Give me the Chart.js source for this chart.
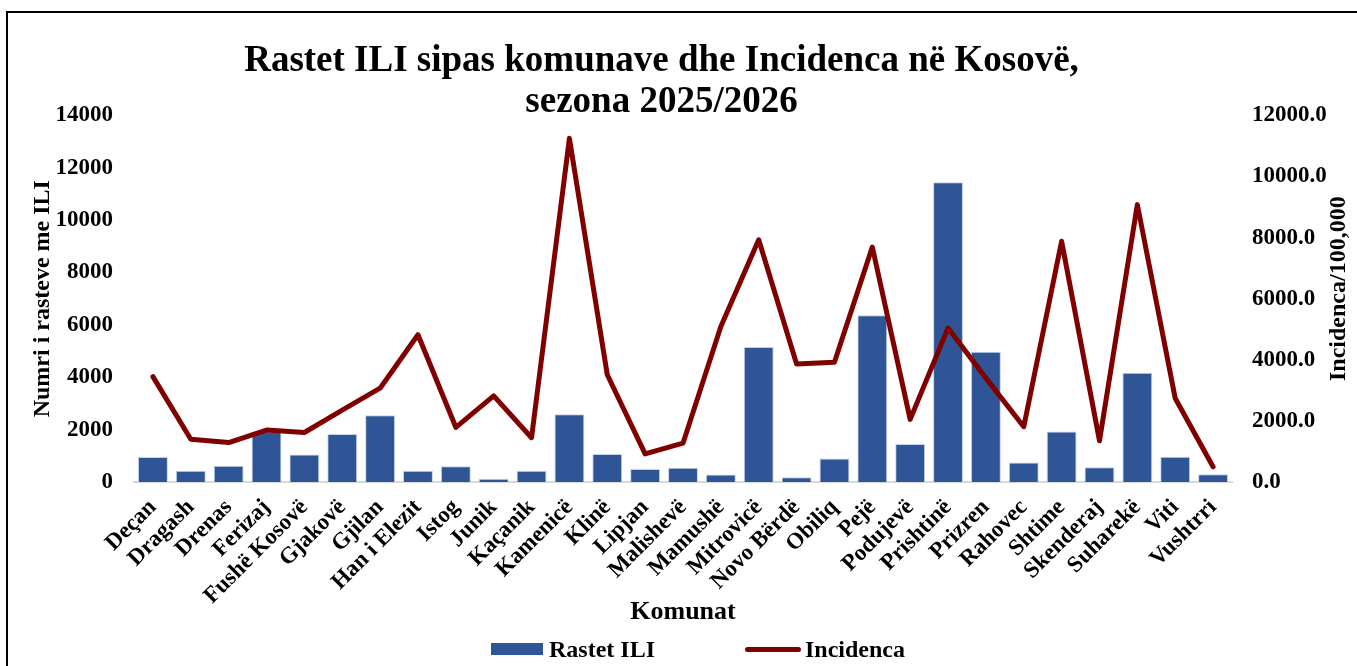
<!DOCTYPE html>
<html lang="sq">
<head>
<meta charset="utf-8">
<title>Rastet ILI sipas komunave</title>
<script src="https://cdn.jsdelivr.net/npm/chart.js@4.4.1/dist/chart.umd.min.js"></script>
<style>
  html, body { margin: 0; padding: 0; background: #fff; }
  .frame { position: relative; width: 1357px; height: 666px; overflow: hidden; }
  .frame .edge { position: absolute; left: 6px; top: 11px; width: 1400px; height: 700px; border: 2px solid #000; box-sizing: border-box; }
  .frame canvas { position: absolute; left: 0; top: 0; }
  .legend { position: absolute; top: 636px; left: 0; height: 26px; font: bold 24px "Liberation Serif", "Times New Roman", serif; color: #000; }
  .legend .item { position: absolute; top: 0; display: flex; align-items: center; height: 26px; white-space: nowrap; }
  .legend .swatch { display: inline-block; margin-right: 6px; }
</style>
</head>
<body>
<div class="frame">
  <div class="edge"></div>
  <canvas id="iliChart" width="1357" height="666"></canvas>
  <div class="legend" id="iliLegend"></div>
</div>
<script>
  // Komunat (categories)
  const municipalities = [
    'Deçan', 'Dragash', 'Drenas', 'Ferizaj', 'Fushë Kosovë', 'Gjakovë', 'Gjilan',
    'Han i Elezit', 'Istog', 'Junik', 'Kaçanik', 'Kamenicë', 'Klinë', 'Lipjan',
    'Malishevë', 'Mamushë', 'Mitrovicë', 'Novo Bërdë', 'Obiliq', 'Pejë', 'Podujevë',
    'Prishtinë', 'Prizren', 'Rahovec', 'Shtime', 'Skenderaj', 'Suharekë', 'Viti', 'Vushtrri'
  ];

  // Rastet ILI (left axis)
  const iliCases = [
    950, 430, 620, 1930, 1050, 1830, 2550,
    430, 600, 120, 430, 2590, 1070, 500,
    540, 290, 5160, 180, 900, 6370, 1450,
    11450, 4970, 740, 1930, 560, 4170, 960, 300
  ];

  // Incidenca / 100,000 (right axis)
  const incidence = [
    3450, 1400, 1290, 1700, 1620, 2350, 3070,
    4820, 1790, 2820, 1450, 11250, 3510, 920,
    1270, 5090, 7930, 3860, 3920, 7690, 2050,
    5040, 3400, 1810, 7880, 1350, 9080, 2740, 500
  ];

  // axis ranges / tick steps
  const casesAxis = { min: 0, max: 14000, step: 2000 };
  const incidenceAxis = { min: 0, max: 12000, step: 2000 };

  const BLUE = '#2f5597';
  const DARK_RED = '#800000';
  const SERIF = '"Liberation Serif", "Times New Roman", serif';

  // right axis title reads bottom-to-top in the original, so draw it ourselves
  const rightTitle = {
    id: 'rightTitle',
    afterDraw(chart) {
      const s = chart.scales.y1;
      const ctx = chart.ctx;
      ctx.save();
      ctx.translate(1339, (s.top + s.bottom) / 2 - 10);
      ctx.rotate(-Math.PI / 2);
      ctx.font = 'bold 24px ' + SERIF;
      ctx.fillStyle = '#000';
      ctx.textAlign = 'center';
      ctx.textBaseline = 'middle';
      ctx.fillText('Incidenca/100,000', 0, 0);
      ctx.restore();
    }
  };

  const chart = new Chart(document.getElementById('iliChart'), {
    data: {
      labels: municipalities,
      datasets: [
        {
          type: 'line',
          label: 'Incidenca',
          data: incidence,
          yAxisID: 'y1',
          borderColor: DARK_RED,
          backgroundColor: DARK_RED,
          borderWidth: 5,
          borderCapStyle: 'round',
          borderJoinStyle: 'round',
          pointRadius: 0,
          tension: 0,
          order: 0
        },
        {
          type: 'bar',
          label: 'Rastet ILI',
          data: iliCases,
          yAxisID: 'y',
          backgroundColor: BLUE,
          borderColor: 'rgba(190,205,235,0.9)',
          borderWidth: 1,
          barPercentage: 0.79,
          categoryPercentage: 1,
          order: 1
        }
      ]
    },
    options: {
      responsive: false,
      animation: false,
      // negative left padding moves the full-width title a bit left, like the original
      layout: { padding: { left: -34, right: 0, top: 0, bottom: 0 } },
      plugins: {
        legend: { display: false },
        tooltip: { enabled: false },
        title: {
          display: true,
          text: ['Rastet ILI sipas komunave dhe Incidenca në Kosovë,', 'sezona 2025/2026'],
          color: '#000',
          font: { family: SERIF, size: 37, weight: 'bold', lineHeight: 1.1 },
          padding: { top: 41, bottom: -7 }
        }
      },
      scales: {
        x: {
          grid: { display: false, drawTicks: false },
          border: { display: true, color: '#d9d9d9', width: 2 },
          ticks: {
            color: '#000',
            autoSkip: false,
            minRotation: 45,
            maxRotation: 45,
            padding: 12,
            font: { family: SERIF, size: 23, weight: 'bold' }
          },
          title: {
            display: true,
            text: 'Komunat',
            color: '#000',
            font: { family: SERIF, size: 26, weight: 'bold' },
            padding: { top: 0, bottom: 38 }
          },
          afterFit: s => { s.height = 184; }
        },
        y: {
          position: 'left',
          min: casesAxis.min,
          max: casesAxis.max,
          grid: { display: false, drawTicks: false },
          border: { display: false },
          ticks: {
            stepSize: casesAxis.step,
            color: '#000',
            padding: 21,
            font: { family: SERIF, size: 23, weight: 'bold' },
            callback: v => String(v)
          },
          title: {
            display: true,
            text: 'Numri i rasteve me ILI',
            color: '#000',
            font: { family: SERIF, size: 24, weight: 'bold' },
            padding: { top: 62, bottom: 0 }
          },
          afterFit: s => { s.width = 168; }
        },
        y1: {
          position: 'right',
          min: incidenceAxis.min,
          max: incidenceAxis.max,
          grid: { display: false, drawTicks: false },
          border: { display: false },
          ticks: {
            stepSize: incidenceAxis.step,
            color: '#000',
            padding: 20,
            font: { family: SERIF, size: 23, weight: 'bold' },
            callback: v => Number(v).toFixed(1)
          },
          afterFit: s => { s.width = 125; }
        }
      }
    },
    plugins: [rightTitle]
  });

  /* ---------- HTML legend (spacing as in the original) ---------- */
  const legendEl = document.getElementById('iliLegend');
  const legendSpots = { 'Rastet ILI': 491, 'Incidenca': 745 };
  [chart.data.datasets[1], chart.data.datasets[0]].forEach(ds => {
    const item = document.createElement('div');
    item.className = 'item';
    item.style.left = legendSpots[ds.label] + 'px';
    const sw = document.createElement('span');
    sw.className = 'swatch';
    if (ds.type === 'bar') {
      sw.style.cssText = `width:52px;height:12px;background:${ds.backgroundColor};`;
    } else {
      sw.style.cssText = `width:56px;height:5px;border-radius:3px;background:${ds.borderColor};margin-right:4px;`;
    }
    item.appendChild(sw);
    item.appendChild(document.createTextNode(ds.label));
    legendEl.appendChild(item);
  });
</script>
</body>
</html>
